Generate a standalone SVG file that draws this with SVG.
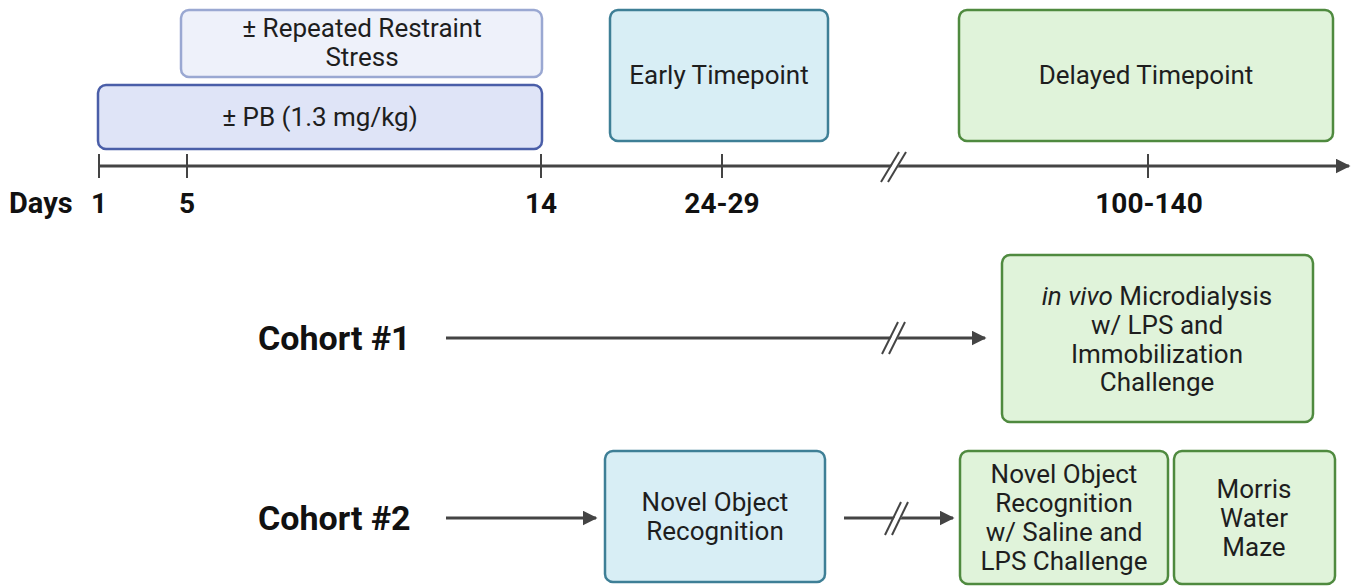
<svg xmlns="http://www.w3.org/2000/svg" width="1359" height="586" viewBox="0 0 1359 586">
<defs>
<marker id="ah" viewBox="0 0 10 10" refX="9" refY="5" markerWidth="5" markerHeight="5" markerUnits="strokeWidth" orient="auto">
<path d="M0,0 L10,5 L0,10 z" fill="#444"/>
</marker>
<style>
.box{stroke-width:2.5}
.purpleL{fill:#eef1fa;stroke:#9aa8d2}
.purple{fill:#dfe4f7;stroke:#4a5ea8}
.blue{fill:#d8eef5;stroke:#3e7f96}
.green{fill:#e0f3da;stroke:#4f8a3f}
.t{font-family:Roboto,"Liberation Sans",sans-serif;font-size:26px;fill:#1e1e1e;text-anchor:middle}
.b{font-family:Roboto,"Liberation Sans",sans-serif;font-weight:bold;fill:#111}
.ln{stroke:#444;stroke-width:3;fill:none}
.tk{stroke:#444;stroke-width:2;fill:none}
.sl{stroke:#444;stroke-width:2;fill:none}
</style>
</defs>
<rect width="1359" height="586" fill="#fff"/>

<g id="stress">
<rect class="box purpleL" x="181" y="10" width="361" height="67" rx="8"/>
<text class="t" x="362" y="37">± Repeated Restraint</text>
<text class="t" x="362" y="66">Stress</text>
</g>
<g id="pb">
<rect class="box purple" x="98" y="85" width="444" height="64" rx="8"/>
<text class="t" x="320" y="126">± PB (1.3 mg/kg)</text>
</g>
<g id="early">
<rect class="box blue" x="610" y="10" width="218" height="131" rx="8"/>
<text class="t" x="719" y="84">Early Timepoint</text>
</g>
<g id="delayed">
<rect class="box green" x="959" y="10" width="374" height="131" rx="8"/>
<text class="t" x="1146" y="84">Delayed Timepoint</text>
</g>

<g id="connectors">
<line class="ln" x1="99" y1="166" x2="1349" y2="166" marker-end="url(#ah)"/>
<line class="tk" x1="99" y1="154" x2="99" y2="178"/>
<line class="tk" x1="187" y1="154" x2="187" y2="178"/>
<line class="tk" x1="541" y1="154" x2="541" y2="178"/>
<line class="tk" x1="722" y1="154" x2="722" y2="178"/>
<line class="tk" x1="1148" y1="154" x2="1148" y2="178"/>
<polygon points="882,182 900,152 907,152 889,182" fill="#fff"/>
<line class="sl" x1="881" y1="182" x2="899" y2="152"/>
<line class="sl" x1="888" y1="182" x2="906" y2="152"/>

<line class="ln" x1="446" y1="338" x2="985" y2="338" marker-end="url(#ah)"/>
<polygon points="883,354 899,322 906,322 890,354" fill="#fff"/>
<line class="sl" x1="882" y1="354" x2="898" y2="322"/>
<line class="sl" x1="889" y1="354" x2="905" y2="322"/>

<line class="ln" x1="446" y1="518" x2="596" y2="518" marker-end="url(#ah)"/>
<line class="ln" x1="844" y1="518" x2="953" y2="518" marker-end="url(#ah)"/>
<polygon points="886,535 902,502 909,502 893,535" fill="#fff"/>
<line class="sl" x1="885" y1="535" x2="901" y2="502"/>
<line class="sl" x1="892" y1="535" x2="908" y2="502"/>
</g>

<g id="axis-labels">
<text class="b" x="9" y="213" font-size="29">Days</text>
<text class="b" x="99" y="213" font-size="28" text-anchor="middle">1</text>
<text class="b" x="187" y="213" font-size="28" text-anchor="middle">5</text>
<text class="b" x="541" y="213" font-size="28" text-anchor="middle">14</text>
<text class="b" x="722" y="213" font-size="28" text-anchor="middle">24-29</text>
<text class="b" x="1149" y="213" font-size="28" text-anchor="middle">100-140</text>
</g>

<g id="cohort1">
<text class="b" x="258" y="350" font-size="34">Cohort #1</text>
</g>
<g id="microdialysis">
<rect class="box green" x="1002" y="255" width="311" height="167" rx="8"/>
<text class="t" x="1157" y="305"><tspan font-style="italic">in vivo</tspan> Microdialysis</text>
<text class="t" x="1157" y="334">w/ LPS and</text>
<text class="t" x="1157" y="363">Immobilization</text>
<text class="t" x="1157" y="391">Challenge</text>
</g>

<g id="cohort2">
<text class="b" x="258" y="530" font-size="34">Cohort #2</text>
</g>
<g id="nor1">
<rect class="box blue" x="605" y="451" width="220" height="131" rx="8"/>
<text class="t" x="715" y="511">Novel Object</text>
<text class="t" x="715" y="540">Recognition</text>
</g>
<g id="nor2">
<rect class="box green" x="960" y="451" width="208" height="133" rx="8"/>
<text class="t" x="1064" y="483">Novel Object</text>
<text class="t" x="1064" y="512">Recognition</text>
<text class="t" x="1064" y="541">w/ Saline and</text>
<text class="t" x="1064" y="570">LPS Challenge</text>
</g>
<g id="mwm">
<rect class="box green" x="1174" y="451" width="161" height="133" rx="8"/>
<text class="t" x="1254" y="498">Morris</text>
<text class="t" x="1254" y="527">Water</text>
<text class="t" x="1254" y="556">Maze</text>
</g>
</svg>
